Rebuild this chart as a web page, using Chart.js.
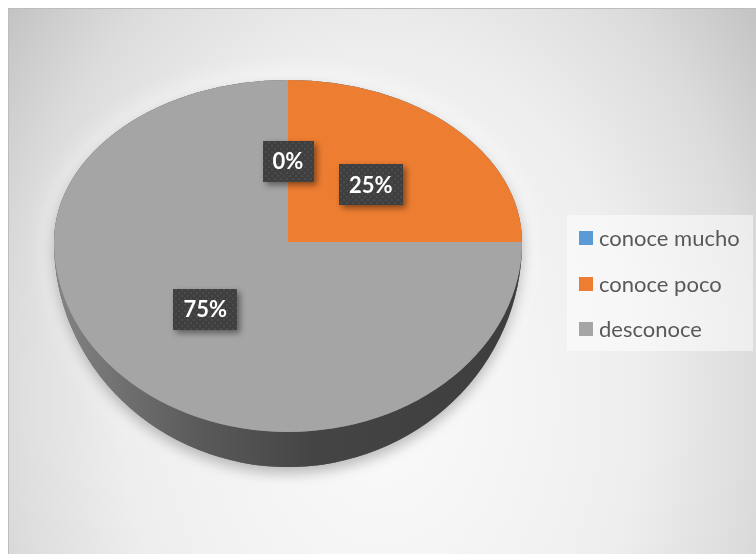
<!DOCTYPE html>
<html>
<head>
<meta charset="utf-8">
<script src="https://cdn.jsdelivr.net/npm/chart.js@4/dist/chart.umd.min.js"></script>
<style>
  html, body { margin: 0; padding: 0; background: #ffffff; }
  canvas { display: block; }
</style>
</head>
<body>
<canvas id="pie3d" width="756" height="554"></canvas>
<script>
'use strict'

// categories and shares (%)
var categories = ['conoce mucho', 'conoce poco', 'desconoce'];
var shares = [0, 25, 75];
var sliceColors = ['#5B9BD5', '#ED7D31', '#A5A5A5'];

// vertical squash of the pie: back half, front half, bottom of the side wall
var tiltBack = 162 / 234;
var tiltFront = 190 / 234;
var tiltSide = 225 / 234;

function shade(hex, f) {
    var n = parseInt(hex.slice(1), 16);
    var r = Math.round(((n >> 16) & 255) * f);
    var g = Math.round(((n >> 8) & 255) * f);
    var b = Math.round((n & 255) * f);
    return 'rgb(' + r + ',' + g + ',' + b + ')';
}

/* dotted fill for the value boxes */
var dots = document.createElement('canvas');
dots.width = 6;
dots.height = 6;
var dctx = dots.getContext('2d');
dctx.fillStyle = '#3f3f3f';
dctx.fillRect(0, 0, 6, 6);
dctx.fillStyle = '#4b4b4b';
dctx.fillRect(1, 1, 2, 2);
dctx.fillRect(4, 4, 2, 2);

var backdrop = {
    id: 'backdrop',
    beforeDraw: function (chart) {
        var ctx = chart.ctx;
        var w = chart.width, h = chart.height;
        ctx.save();
        ctx.fillStyle = '#ffffff';
        ctx.fillRect(0, 0, w, h);
        // elliptical radial gradient, lighter toward the bottom middle
        ctx.save();
        ctx.beginPath();
        ctx.rect(8, 8, w - 8, h - 8);
        ctx.clip();
        ctx.translate(382, 400);
        ctx.scale(1, 1.35);
        var g = ctx.createRadialGradient(0, 0, 0, 0, 0, 470);
        g.addColorStop(0, '#fbfbfb');
        g.addColorStop(0.55, '#eeeeee');
        g.addColorStop(0.8, '#dcdcdc');
        g.addColorStop(1, '#c4c4c4');
        ctx.fillStyle = g;
        ctx.fillRect(-500, -500, 1000, 1000);
        ctx.restore();
        ctx.strokeStyle = '#bdbdbd';
        ctx.lineWidth = 1;
        ctx.beginPath();
        ctx.moveTo(8.5, h);
        ctx.lineTo(8.5, 8.5);
        ctx.lineTo(w, 8.5);
        ctx.stroke();
        ctx.restore();
    }
};

var tilted = {
    id: 'tilted',
    beforeDatasetsDraw: function (chart) {
        var ctx = chart.ctx;
        var arcs = chart.getDatasetMeta(0).data;
        var cx = arcs[0].x, cy = arcs[0].y, r = arcs[0].outerRadius;

        /* glow and soft shadow under the whole disc */
        ctx.save();
        ctx.beginPath();
        ctx.ellipse(cx, cy, r, r * tiltBack, 0, Math.PI, 2 * Math.PI);
        ctx.ellipse(cx, cy, r, r * tiltSide, 0, 0, Math.PI);
        ctx.closePath();
        ctx.fillStyle = '#808080';
        ctx.shadowColor = 'rgba(255,255,255,0.95)';
        ctx.shadowBlur = 30;
        ctx.fill();
        ctx.shadowColor = 'rgba(0,0,0,0.28)';
        ctx.shadowBlur = 14;
        ctx.shadowOffsetY = 6;
        ctx.fill();
        ctx.restore();

        /* side wall: front part of each slice */
        arcs.forEach(function (arc, i) {
            var s = arc.startAngle, e = arc.endAngle;
            [0, -2 * Math.PI].forEach(function (shift) {
                var a = Math.max(s + shift, 0), b = Math.min(e + shift, Math.PI);
                if (b <= a) return;
                var col = sliceColors[i];
                var g = ctx.createLinearGradient(cx - r, 0, cx + r, 0);
                g.addColorStop(0, shade(col, 0.8));
                g.addColorStop(0.3, shade(col, 0.55));
                g.addColorStop(0.55, shade(col, 0.42));
                g.addColorStop(1, shade(col, 0.37));
                ctx.save();
                ctx.beginPath();
                ctx.ellipse(cx, cy, r, r * tiltFront, 0, a, b);
                ctx.ellipse(cx, cy, r, r * tiltSide, 0, b, a, true);
                ctx.closePath();
                ctx.fillStyle = g;
                ctx.fill();
                ctx.restore();
            });
        });

        /* top face: back half and front half squashed differently */
        [[0, cy + 1, tiltBack], [cy, chart.height, tiltFront]].forEach(function (half) {
            ctx.save();
            ctx.beginPath();
            ctx.rect(0, half[0], chart.width, half[1] - half[0]);
            ctx.clip();
            ctx.translate(cx, cy);
            ctx.scale(1, half[2]);
            ctx.translate(-cx, -cy);
            arcs.forEach(function (arc) { arc.draw(ctx); });
            ctx.restore();
        });
        return false;
    },
    afterDraw: function (chart) {
        var ctx = chart.ctx;
        var meta = chart.getDatasetMeta(0);
        var data = chart.data.datasets[0].data;
        var total = data.reduce(function (t, v) { return t + v; }, 0);
        var cy = meta.data[0].y;

        /* value boxes */
        ctx.save();
        ctx.font = 'bold 22px Lato, "Open Sans", sans-serif';
        ctx.textAlign = 'center';
        ctx.textBaseline = 'middle';
        meta.data.forEach(function (arc, i) {
            var p = arc.tooltipPosition();
            var y = cy + (p.y - cy) * (p.y < cy ? tiltBack : tiltFront);
            var txt = Math.round(data[i] / total * 100) + '%';
            var bw = ctx.measureText(txt).width + 20, bh = 41;
            ctx.save();
            ctx.shadowColor = 'rgba(0,0,0,0.45)';
            ctx.shadowBlur = 6;
            ctx.shadowOffsetX = 3;
            ctx.shadowOffsetY = 3;
            ctx.fillStyle = ctx.createPattern(dots, 'repeat');
            ctx.fillRect(Math.round(p.x - bw / 2), Math.round(y - bh / 2), Math.round(bw), bh);
            ctx.restore();
            ctx.fillStyle = '#ffffff';
            ctx.fillText(txt, p.x, y + 1);
        });
        ctx.restore();

        /* legend panel on the right */
        ctx.save();
        ctx.fillStyle = 'rgba(255,255,255,0.5)';
        ctx.fillRect(567, 215, 186, 136);
        ctx.font = '22px Lato, "Open Sans", sans-serif';
        ctx.textBaseline = 'middle';
        chart.data.labels.forEach(function (lab, i) {
            var y = 238 + i * 45.5;
            ctx.fillStyle = sliceColors[i];
            ctx.fillRect(579, Math.round(y - 7), 14, 14);
            ctx.fillStyle = '#595959';
            ctx.fillText(lab, 599, y + 1);
        });
        ctx.restore();
    }
};

var pieChart = new Chart(document.getElementById('pie3d').getContext('2d'), {
    type: 'pie',
    data: {
        labels: categories,
        datasets: [{
            data: shares,
            backgroundColor: sliceColors,
            borderWidth: 0,
            hoverOffset: 0,
            offset: 0
        }]
    },
    options: {
        responsive: false,
        devicePixelRatio: 1,
        animation: false,
        layout: {
            padding: { left: 54, right: 234, top: 8, bottom: 78 }
        },
        plugins: {
            legend: { display: false },
            tooltip: { enabled: false }
        }
    },
    plugins: [backdrop, tilted]
});
</script>
</body>
</html>
